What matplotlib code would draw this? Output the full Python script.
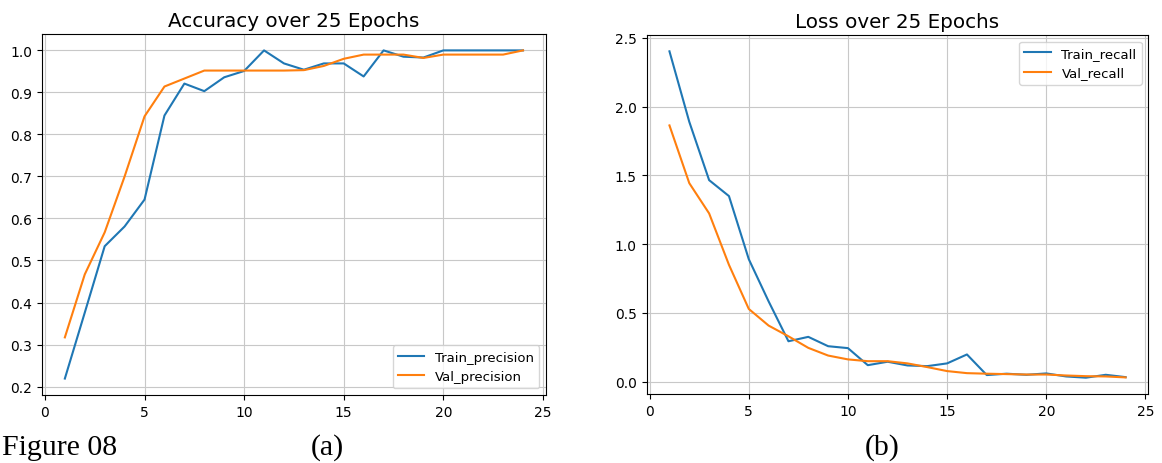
import numpy as np
import matplotlib
matplotlib.use("Agg")
import matplotlib.pyplot as plt

epochs = list(range(1, 25))

# accuracy panel (a)
train_precision = [0.219, 0.376, 0.534, 0.581, 0.645, 0.845, 0.921, 0.903, 0.936, 0.951,
                   1.0, 0.969, 0.954, 0.969, 0.969, 0.938, 1.0, 0.985, 0.983, 1.0,
                   1.0, 1.0, 1.0, 1.0]
val_precision = [0.317, 0.467, 0.567, 0.70, 0.843, 0.914, 0.933, 0.952, 0.952, 0.952,
                 0.952, 0.952, 0.953, 0.963, 0.98, 0.99, 0.99, 0.99, 0.982, 0.99,
                 0.99, 0.99, 0.99, 1.0]

# loss panel (b)
train_recall = [2.403, 1.89, 1.466, 1.35, 0.891, 0.584, 0.294, 0.326, 0.258, 0.244,
                0.12, 0.145, 0.118, 0.113, 0.133, 0.198, 0.048, 0.058, 0.05, 0.06,
                0.038, 0.029, 0.05, 0.033]
val_recall = [1.864, 1.444, 1.224, 0.85, 0.529, 0.408, 0.33, 0.246, 0.19, 0.162,
              0.149, 0.149, 0.133, 0.106, 0.077, 0.062, 0.058, 0.055, 0.052, 0.052,
              0.045, 0.04, 0.038, 0.031]

fig = plt.figure(figsize=(11.62, 4.64), dpi=100)

ax1 = fig.add_axes([0.0361, 0.1466, 0.4337, 0.778])
ax1.plot(epochs, train_precision, label='Train_precision')
ax1.plot(epochs, val_precision, label='Val_precision')
ax1.set_title('Accuracy over 25 Epochs', fontsize=14.3)
ax1.grid(True, color='#c8c8c8')
ax1.tick_params(labelsize=10)
ax1.legend(loc='lower right', fontsize=9.5)

ax2 = fig.add_axes([0.5565, 0.1487, 0.4318, 0.7737])
ax2.plot(epochs, train_recall, label='Train_recall')
ax2.plot(epochs, val_recall, label='Val_recall')
ax2.set_title('Loss over 25 Epochs', fontsize=14.3)
ax2.grid(True, color='#c8c8c8')
ax2.tick_params(labelsize=10)
ax2.legend(loc='upper right', fontsize=9.5)

# caption text from the document
fig.text(0.002, 0.02, 'Figure 08', family='Liberation Serif', fontsize=21.5)
fig.text(0.282, 0.02, '(a)', family='Liberation Serif', fontsize=21.5, ha='center')
fig.text(0.759, 0.02, '(b)', family='Liberation Serif', fontsize=21.5, ha='center')

fig.savefig('out.png', dpi=100)
